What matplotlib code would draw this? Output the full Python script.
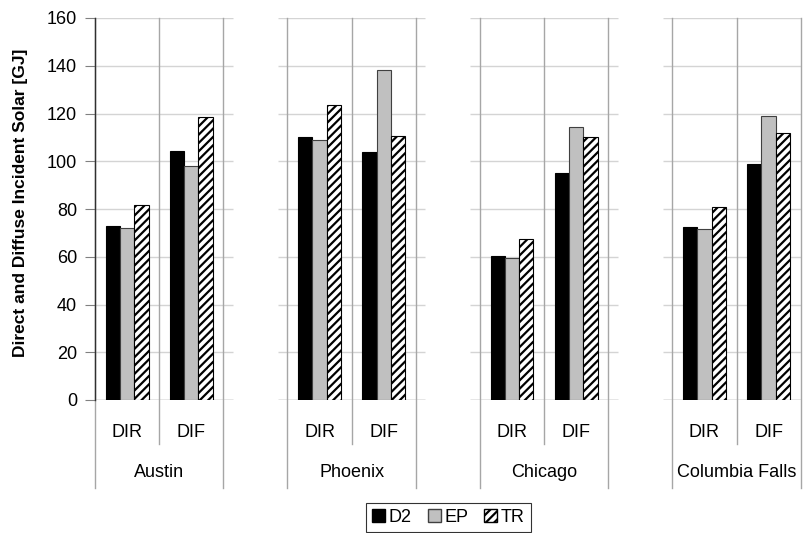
import numpy as np
import matplotlib
matplotlib.use('Agg')
from matplotlib import pyplot as plt
from matplotlib.patches import Patch
from matplotlib.transforms import blended_transform_factory


cities = ['Austin', 'Phoenix', 'Chicago', 'Columbia Falls']
components = ['DIR', 'DIF']
series = ['D2', 'EP', 'TR']

# values per city: [DIR, DIF]
d2 = [[73.0, 104.2], [110.3, 104.0], [60.2, 95.1], [72.3, 99.0]]
ep = [[72.0, 98.1], [109.0, 138.1], [59.5, 114.5], [71.5, 119.1]]
tr = [[81.8, 118.7], [123.4, 110.7], [67.3, 110.3], [81.0, 112.0]]

y_ticks = [0, 20, 40, 60, 80, 100, 120, 140, 160]

plt.rcParams['font.family'] = ['Liberation Sans', 'DejaVu Sans']
plt.rcParams['hatch.linewidth'] = 1.6

FS = 13


def draw_panel_lines(ax, left, right, trans):
    ext = 0.15
    for yv in y_ticks:
        col = '#808080' if yv == 0 else '#d4d4d4'
        ax.hlines(yv, left - ext, right + ext, color=col, lw=1.0, zorder=1)
    # vertical separators, going below the axis into the label area
    for xv, low in [(left, -0.230), (left + 1, -0.115), (right, -0.230)]:
        ax.plot([xv, xv], [low, 1.0], transform=trans, color='#a6a6a6',
                lw=1.0, clip_on=False, zorder=1)


def do_plot():
    fig = plt.figure(figsize=(8.04, 5.33), dpi=100)
    ax = fig.add_axes([95/804, 1-400/533, (800.7-95)/804, 382/533])
    trans = blended_transform_factory(ax.transData, ax.transAxes)

    bar_w = 0.223
    styles = [
        dict(color='black', edgecolor='black'),
        dict(color='#c0c0c0', edgecolor='#404040'),
        dict(color='white', edgecolor='black', hatch='////'),
    ]
    data = [d2, ep, tr]

    for ci, city in enumerate(cities):
        left = ci * 3
        draw_panel_lines(ax, left, left + 2, trans)
        for k, comp in enumerate(components):
            center = left + k + 0.5
            for si, vals in enumerate(data):
                xpos = center + (si - 1) * bar_w
                ax.bar(xpos, vals[ci][k], width=bar_w, lw=0.8, zorder=3,
                       **styles[si])
            ax.text(center, -0.084, comp, transform=trans, ha='center',
                    va='center', fontsize=FS)
        ax.text(left + 1, -0.191, city, transform=trans, ha='center',
                va='center', fontsize=FS)

    ax.set_xlim(0, 11)
    ax.set_ylim(0, 160)
    ax.set_yticks(y_ticks)
    ax.set_xticks([])
    for s in ['top', 'right', 'bottom']:
        ax.spines[s].set_visible(False)
    ax.spines['left'].set_color('#303030')
    ax.spines['left'].set_linewidth(1.0)
    ax.tick_params(axis='y', length=7, color='#808080', labelsize=FS, pad=6)

    fig.text(20.5/804, 1-202.5/533, 'Direct and Diffuse Incident Solar [GJ]',
             rotation=90, ha='center', va='center', fontsize=12.5,
             fontweight='bold')

    handles = [Patch(facecolor='black', edgecolor='black', label='D2'),
               Patch(facecolor='#c0c0c0', edgecolor='#404040', label='EP'),
               Patch(facecolor='white', edgecolor='black', hatch='////',
                     label='TR')]
    leg = fig.legend(handles=handles, loc='upper center', ncol=3,
                     bbox_to_anchor=(448.5/804, 1-502.5/533), fontsize=FS,
                     frameon=True, fancybox=False, handlelength=0.7,
                     handleheight=0.7, handletextpad=0.2, columnspacing=0.9,
                     borderpad=0.35, borderaxespad=0)
    leg.get_frame().set_edgecolor('black')
    leg.get_frame().set_linewidth(0.8)

    fig.savefig('out.png', dpi=100)
    plt.close()


if __name__ == '__main__':
    do_plot()
